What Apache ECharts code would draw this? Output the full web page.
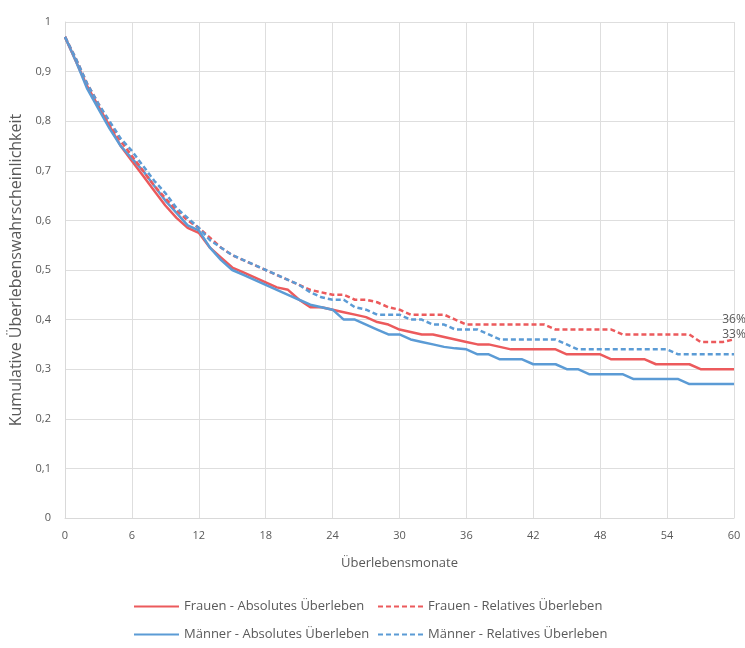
<!DOCTYPE html>
<html><head><meta charset="utf-8">
<script src="https://cdn.jsdelivr.net/npm/echarts@6/dist/echarts.min.js"></script>
<style>html,body{margin:0;padding:0;background:#fff}#c{width:745px;height:648px}</style>
</head><body><div id="c"></div>
<script>
const months = [0,1,2,3,4,5,6,7,8,9,10,11,12,13,14,15,16,17,18,19,20,21,22,23,24,25,26,27,28,29,30,
  31,32,33,34,35,36,37,38,39,40,41,42,43,44,45,46,47,48,49,50,51,52,53,54,55,56,57,58,59,60];
const frauenAbs = [0.97,0.92,0.87,0.83,0.79,0.75,0.72,0.69,0.66,0.63,0.605,0.585,0.575,0.545,0.525,0.505,0.495,0.485,0.475,0.465,
  0.46,0.44,0.425,0.425,0.42,0.415,0.41,0.405,0.395,0.39,0.38,0.375,0.37,0.37,0.365,0.36,0.355,0.35,0.35,0.345,
  0.34,0.34,0.34,0.34,0.34,0.33,0.33,0.33,0.33,0.32,0.32,0.32,0.32,0.31,0.31,0.31,0.31,0.30,0.30,0.30,0.30];
const maennerAbs = [0.97,0.92,0.865,0.825,0.785,0.75,0.725,0.70,0.67,0.64,0.615,0.59,0.58,0.545,0.52,0.50,0.49,0.48,0.47,0.46,
  0.45,0.44,0.43,0.425,0.42,0.40,0.40,0.39,0.38,0.37,0.37,0.36,0.355,0.35,0.345,0.342,0.34,0.33,0.33,0.32,
  0.32,0.32,0.31,0.31,0.31,0.30,0.30,0.29,0.29,0.29,0.29,0.28,0.28,0.28,0.28,0.28,0.27,0.27,0.27,0.27,0.27];
const frauenRel = [0.97,0.925,0.875,0.835,0.795,0.76,0.73,0.70,0.67,0.645,0.62,0.60,0.585,0.565,0.545,0.53,0.52,0.51,0.50,0.49,
  0.48,0.47,0.46,0.455,0.45,0.45,0.44,0.44,0.435,0.425,0.42,0.41,0.41,0.41,0.41,0.40,0.39,0.39,0.39,0.39,
  0.39,0.39,0.39,0.39,0.38,0.38,0.38,0.38,0.38,0.38,0.37,0.37,0.37,0.37,0.37,0.37,0.37,0.355,0.355,0.355,0.36];
const maennerRel = [0.97,0.925,0.875,0.835,0.80,0.765,0.74,0.71,0.68,0.655,0.625,0.605,0.585,0.56,0.545,0.53,0.52,0.51,0.50,0.49,
  0.48,0.47,0.455,0.445,0.44,0.44,0.425,0.42,0.41,0.41,0.41,0.40,0.40,0.39,0.39,0.38,0.38,0.38,0.37,0.36,
  0.36,0.36,0.36,0.36,0.36,0.35,0.34,0.34,0.34,0.34,0.34,0.34,0.34,0.34,0.34,0.33,0.33,0.33,0.33,0.33,0.33];
const seriesNames = ['Frauen - Absolutes Überleben','Frauen - Relatives Überleben','Männer - Absolutes Überleben','Männer - Relatives Überleben'];
const xTicks = [0,6,12,18,24,30,36,42,48,54,60];

const RED = '#ec5a5c', BLUE = '#5b9bd5', TXT = '#595959', FONT = 'Open Sans';

function mk(name, vals, color, dashed, endLabel) {
  const s = {name, type: 'line', data: vals.map((v, i) => [months[i], v]), symbol: 'none', showSymbol: false,
    smooth: false, animation: false, z: dashed ? 3 : 2,
    lineStyle: {color, width: 2.5, type: dashed ? [5, 3] : 'solid'}, itemStyle: {color}};
  if (endLabel) {
    const last = vals.length - 1;
    s.markPoint = {symbol: 'circle', symbolSize: 0, silent: true, animation: false,
      data: [{coord: [months[last], vals[last]], value: vals[last]}],
      label: {show: true, position: 'top', distance: 14, color: TXT, fontFamily: FONT, fontSize: 12,
        formatter: p => Math.round(p.value * 100) + '%'}};
  }
  return s;
}
const legendBase = {itemWidth: 45, itemHeight: 12, itemStyle: {opacity: 0},
  textStyle: {color: TXT, fontFamily: FONT, fontSize: 13}, padding: 0};

const chart = echarts.init(document.getElementById('c'), null, {renderer: 'canvas'});
chart.setOption({
  backgroundColor: '#fff',
  animation: false,
  grid: {left: 65, right: 11, top: 22, bottom: 130, containLabel: false},
  xAxis: {type: 'value', min: 0, max: 60, interval: 6,
    name: 'Überlebensmonate', nameLocation: 'middle', nameGap: 39,
    nameTextStyle: {color: TXT, fontFamily: FONT, fontSize: 13},
    axisLine: {show: true, lineStyle: {color: '#d9d9d9'}}, axisTick: {show: false},
    axisLabel: {color: TXT, fontFamily: FONT, fontSize: 11, margin: 12,
      formatter: v => xTicks.includes(v) ? String(v) : ''},
    splitLine: {show: true, lineStyle: {color: '#dedede'}}},
  yAxis: {type: 'value', min: 0, max: 1, interval: 0.1,
    name: 'Kumulative Überlebenswahrscheinlichkeit', nameLocation: 'middle', nameGap: 36,
    nameTextStyle: {color: TXT, fontFamily: FONT, fontSize: 16},
    axisLine: {show: true, lineStyle: {color: '#d9d9d9'}}, axisTick: {show: false},
    axisLabel: {color: TXT, fontFamily: FONT, fontSize: 11, margin: 14,
      formatter: v => (Math.round(v * 10) / 10).toString().replace('.', ',')},
    splitLine: {show: true, lineStyle: {color: '#dedede'}}},
  legend: [
    Object.assign({}, legendBase, {data: [seriesNames[0]], left: 133, top: 600}),
    Object.assign({}, legendBase, {data: [seriesNames[1]], left: 377, top: 600}),
    Object.assign({}, legendBase, {data: [seriesNames[2]], left: 133, top: 628}),
    Object.assign({}, legendBase, {data: [seriesNames[3]], left: 377, top: 628})
  ],
  series: [
    mk(seriesNames[0], frauenAbs, RED, false, false),
    mk(seriesNames[1], frauenRel, RED, true, true),
    mk(seriesNames[2], maennerAbs, BLUE, false, false),
    mk(seriesNames[3], maennerRel, BLUE, true, true)
  ]
});
</script></body></html>
